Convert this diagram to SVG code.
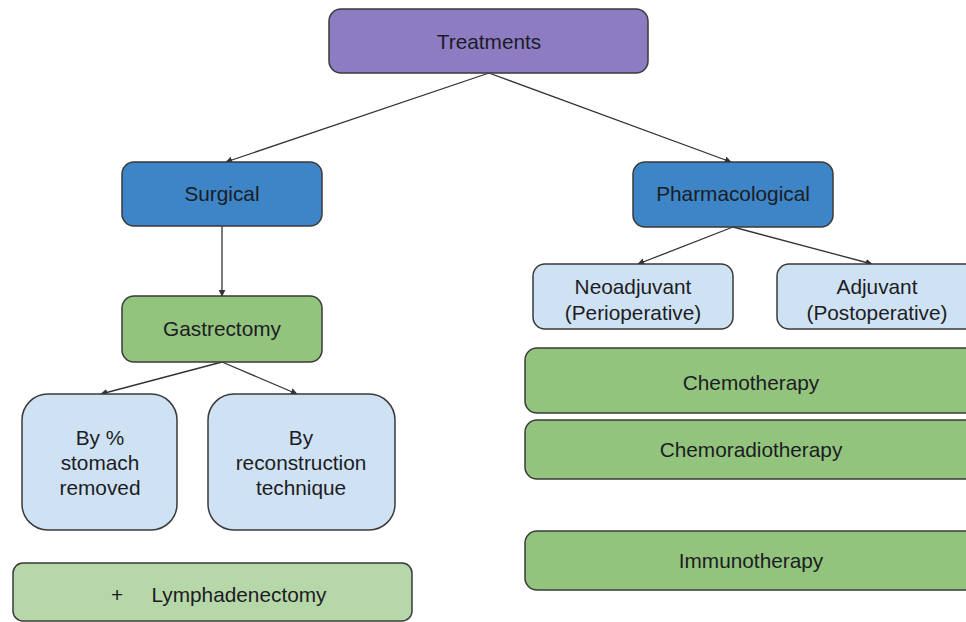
<svg xmlns="http://www.w3.org/2000/svg" width="966" height="622" viewBox="0 0 966 622">
<style>
  .box{stroke:#3a3a3a;stroke-width:1.5}
  .purple{fill:#8e7cc3}
  .blue{fill:#3d85c6}
  .light{fill:#cfe2f3}
  .green{fill:#93c47d}
  .lgreen{fill:#b6d7a8}
  text{font-family:"Liberation Sans",Arial,sans-serif;font-size:20.8px;fill:#1c1c24;text-anchor:middle}
  .conn line{stroke:#333;stroke-width:1.3;marker-end:url(#arr)}
</style>
<defs>
  <marker id="arr" viewBox="0 0 10 10" refX="9" refY="5" markerWidth="7" markerHeight="7" orient="auto" markerUnits="userSpaceOnUse">
    <path d="M0,0 L10,5 L0,10 z" fill="#333"/>
  </marker>
</defs>
<rect width="966" height="622" fill="#ffffff"/>
<g class="conn">
  <line x1="489" y1="73" x2="226" y2="162"/>
  <line x1="489" y1="73" x2="731" y2="162"/>
  <line x1="222" y1="226" x2="222" y2="296"/>
  <line x1="733" y1="227" x2="638" y2="264"/>
  <line x1="733" y1="227" x2="872" y2="264"/>
  <line x1="222" y1="362" x2="101" y2="394"/>
  <line x1="222" y1="362" x2="297" y2="394"/>
</g>
<g id="treatments">
  <rect class="box purple" x="329" y="9" width="319" height="64" rx="12"/>
  <text x="489" y="49">Treatments</text>
</g>
<g id="surgical">
  <rect class="box blue" x="122" y="162" width="200" height="64" rx="12"/>
  <text x="222" y="201">Surgical</text>
</g>
<g id="gastrectomy">
  <rect class="box green" x="122" y="296" width="200" height="66" rx="12"/>
  <text x="222" y="336">Gastrectomy</text>
</g>
<g id="pharmacological">
  <rect class="box blue" x="633" y="162" width="200" height="65" rx="12"/>
  <text x="733" y="201">Pharmacological</text>
</g>
<g id="neoadjuvant">
  <rect class="box light" x="533" y="264" width="200" height="65" rx="12"/>
  <text x="633" y="294">Neoadjuvant</text>
  <text x="633" y="320">(Perioperative)</text>
</g>
<g id="adjuvant">
  <rect class="box light" x="777" y="264" width="200" height="65" rx="12"/>
  <text x="877" y="294">Adjuvant</text>
  <text x="877" y="320">(Postoperative)</text>
</g>
<g id="by-percent">
  <rect class="box light" x="22" y="394" width="155" height="136" rx="26"/>
  <text x="100" y="445">By %</text>
  <text x="100" y="470">stomach</text>
  <text x="100" y="495">removed</text>
</g>
<g id="by-reconstruction">
  <rect class="box light" x="208" y="394" width="187" height="136" rx="26"/>
  <text x="301" y="445">By</text>
  <text x="301" y="470">reconstruction</text>
  <text x="301" y="495">technique</text>
</g>
<g id="lymphadenectomy">
  <rect class="box lgreen" x="13" y="563" width="399" height="58" rx="10"/>
  <text x="117" y="602">+</text>
  <text x="239" y="602">Lymphadenectomy</text>
</g>
<g id="chemotherapy">
  <rect class="box green" x="525" y="348" width="452" height="65" rx="12"/>
  <text x="751" y="390">Chemotherapy</text>
</g>
<g id="chemoradiotherapy">
  <rect class="box green" x="525" y="420" width="452" height="59" rx="12"/>
  <text x="751" y="457">Chemoradiotherapy</text>
</g>
<g id="immunotherapy">
  <rect class="box green" x="525" y="531" width="452" height="59" rx="12"/>
  <text x="751" y="568">Immunotherapy</text>
</g>
</svg>
